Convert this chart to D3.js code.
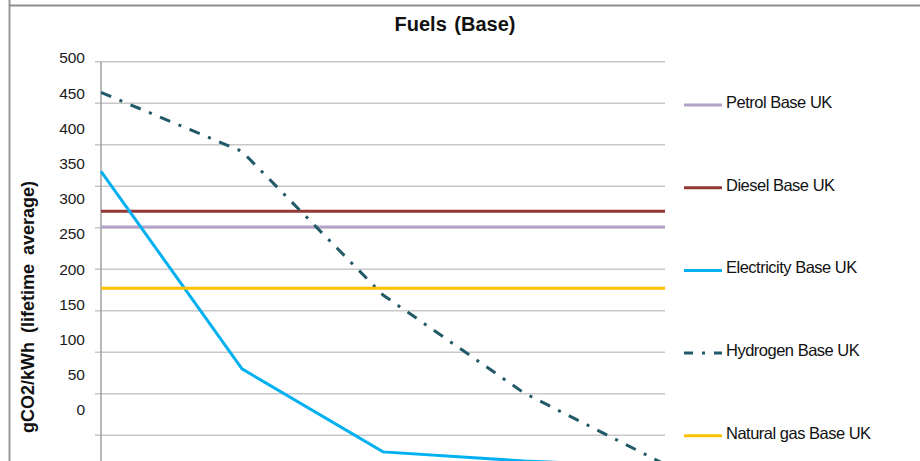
<!DOCTYPE html>
<html>
<head>
<meta charset="utf-8">
<script src="https://cdn.jsdelivr.net/npm/d3@7"></script>
<style>
  body { margin: 0; background: #fff; }
  svg { display: block; font-family: "Liberation Sans", Arial, sans-serif; }
</style>
</head>
<body>
<div id="chart"></div>
<script>
// categories (their labels sit below the visible area)
const years = ['2010', '2020', '2030', '2040', '2050'];

// series values, gCO2/kWh
const petrol = [301, 301, 301, 301, 301];
const diesel = [320, 320, 320, 320, 320];
const electricity = [368, 130, 30, 19, 12];
const hydrogen = [463, 392, 219, 101, 15];
const natGas = [227, 227, 227, 227, 227];

const seriesNames = ['Petrol Base UK', 'Diesel Base UK', 'Electricity Base UK', 'Hydrogen Base UK', 'Natural gas Base UK'];
const seriesColors = ['#b3a2c7', '#953735', '#00b0f0', '#215968', '#ffc000'];
const seriesDash = [null, null, null, '11,9,3,9', null];
const seriesValues = [petrol, diesel, electricity, hydrogen, natGas];

// tick labels on the value axis
const tickLabels = [0, 50, 100, 150, 200, 250, 300, 350, 400, 450, 500];

const W = 920, H = 461;

const svg = d3.select('#chart')
    .append('svg')
    .attr('width', W)
    .attr('height', H);

//frame
svg.append('line')
    .attr('x1', 9.5).attr('x2', 9.5)
    .attr('y1', 0).attr('y2', H)
    .attr('stroke', '#9a9a9a').attr('stroke-width', 2);
svg.append('line')
    .attr('x1', 9).attr('x2', W)
    .attr('y1', 5.5).attr('y2', 5.5)
    .attr('stroke', '#8c8c8c').attr('stroke-width', 2);

//scales
const x = d3.scalePoint().domain(years).range([101, 665]);
const y = d3.scaleLinear().domain([0, 500]).range([476.8, 61.7]);
// the printed labels do not line up with the gridlines in the original
const yLabel = d3.scaleLinear().domain([0, 500]).range([410, 58]);

//gridlines
svg.append('g')
    .selectAll('line')
    .data(d3.range(50, 501, 50))
    .enter()
    .append('line')
    .attr('x1', 95).attr('x2', 665)
    .attr('y1', d => y(d)).attr('y2', d => y(d))
    .attr('stroke', '#c8c8c8')
    .attr('stroke-width', 1.5);

//vertical axis line
svg.append('line')
    .attr('x1', 101).attr('x2', 101)
    .attr('y1', y(500)).attr('y2', y(0))
    .attr('stroke', '#a0a0a0')
    .attr('stroke-width', 1.5);

//tick labels
const labelAxis = svg.append('g')
    .attr('transform', 'translate(85,0)')
    .call(d3.axisLeft(yLabel).tickValues(tickLabels).tickSize(0).tickPadding(0));
labelAxis.select('.domain').remove();
labelAxis.selectAll('text')
    .style('font-family', '"Liberation Sans", Arial, sans-serif')
    .style('font-size', '15.5px')
    .attr('fill', '#1a1a1a');

//series lines
const line = d3.line()
    .x((d, i) => x(years[i]))
    .y(d => y(d));

svg.append('g')
    .selectAll('path')
    .data(seriesValues)
    .enter()
    .append('path')
    .attr('d', d => line(d))
    .attr('fill', 'none')
    .attr('stroke', (d, i) => seriesColors[i])
    .attr('stroke-width', 3)
    .attr('stroke-dasharray', (d, i) => seriesDash[i]);

//title
svg.append('text')
    .attr('x', 455).attr('y', 31)
    .attr('text-anchor', 'middle')
    .style('font-size', '20px')
    .style('font-weight', 'bold')
    .style('word-spacing', '2px')
    .attr('fill', '#111')
    .text('Fuels (Base)');

//y axis title
svg.append('text')
    .attr('transform', 'translate(34,307) rotate(-90)')
    .attr('text-anchor', 'middle')
    .style('font-size', '18px')
    .style('font-weight', 'bold')
    .style('word-spacing', '4px')
    .attr('fill', '#111')
    .text('gCO2/kWh (lifetime average)');

//legend
const legend = svg.append('g')
    .selectAll('g')
    .data(seriesNames)
    .enter()
    .append('g')
    .attr('transform', (d, i) => `translate(684,${105 + i * 82.7})`);

legend.append('line')
    .attr('x1', 0).attr('x2', 38)
    .attr('y1', 0).attr('y2', 0)
    .attr('stroke', (d, i) => seriesColors[i])
    .attr('stroke-width', 3)
    .attr('stroke-dasharray', (d, i) => seriesDash[i] ? '9,9,3,9' : null);

legend.append('text')
    .attr('x', 42).attr('y', 3)
    .style('font-size', '16.5px')
    .style('letter-spacing', '-0.5px')
    .attr('fill', '#111')
    .text(d => d);
</script>
</body>
</html>
